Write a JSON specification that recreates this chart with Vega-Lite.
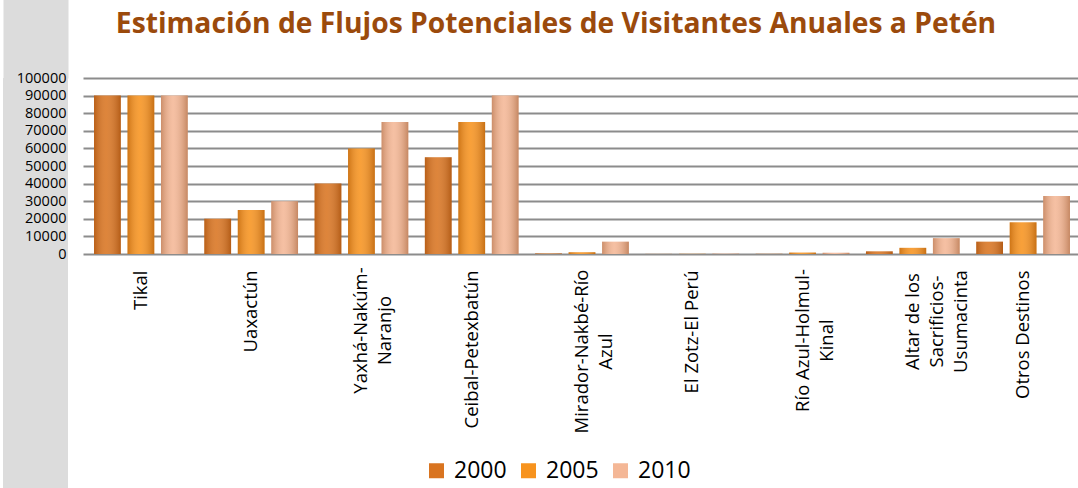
{
  "$schema": "https://vega.github.io/schema/vega-lite/v6.json",
  "padding": 0,
  "background": "white",
  "config": {"view": {"stroke": null}, "font": "Open Sans"},
  "data": {"values": [
    {"destino": "Tikal", "year": "2000", "value": 90000},
    {"destino": "Tikal", "year": "2005", "value": 90000},
    {"destino": "Tikal", "year": "2010", "value": 90000},
    {"destino": "Uaxactún", "year": "2000", "value": 20000},
    {"destino": "Uaxactún", "year": "2005", "value": 25000},
    {"destino": "Uaxactún", "year": "2010", "value": 30000},
    {"destino": "Yaxhá-Nakúm-Naranjo", "year": "2000", "value": 40000},
    {"destino": "Yaxhá-Nakúm-Naranjo", "year": "2005", "value": 60000},
    {"destino": "Yaxhá-Nakúm-Naranjo", "year": "2010", "value": 75000},
    {"destino": "Ceibal-Petexbatún", "year": "2000", "value": 55000},
    {"destino": "Ceibal-Petexbatún", "year": "2005", "value": 75000},
    {"destino": "Ceibal-Petexbatún", "year": "2010", "value": 90000},
    {"destino": "Mirador-Nakbé-Río Azul", "year": "2000", "value": 300},
    {"destino": "Mirador-Nakbé-Río Azul", "year": "2005", "value": 1000},
    {"destino": "Mirador-Nakbé-Río Azul", "year": "2010", "value": 7000},
    {"destino": "El Zotz-El Perú", "year": "2000", "value": 50},
    {"destino": "El Zotz-El Perú", "year": "2005", "value": 100},
    {"destino": "El Zotz-El Perú", "year": "2010", "value": 200},
    {"destino": "Río Azul-Holmul-Kinal", "year": "2000", "value": 100},
    {"destino": "Río Azul-Holmul-Kinal", "year": "2005", "value": 800},
    {"destino": "Río Azul-Holmul-Kinal", "year": "2010", "value": 700},
    {"destino": "Altar de los Sacrificios-Usumacinta", "year": "2000", "value": 1500},
    {"destino": "Altar de los Sacrificios-Usumacinta", "year": "2005", "value": 3500},
    {"destino": "Altar de los Sacrificios-Usumacinta", "year": "2010", "value": 9000},
    {"destino": "Otros Destinos", "year": "2000", "value": 7000},
    {"destino": "Otros Destinos", "year": "2005", "value": 18000},
    {"destino": "Otros Destinos", "year": "2010", "value": 33000}
  ]},
  "spacing": 15,
  "bounds": "flush",
  "resolve": {
    "scale": {"x": "independent", "y": "independent", "color": "independent"},
    "legend": {"color": "independent"}
  },
  "hconcat": [
    {
      "width": 65,
      "height": 410,
      "view": {"fill": "#dcdcdc", "stroke": null},
      "mark": {"type": "point", "opacity": 0},
      "encoding": {
        "x": {
          "field": "value", "type": "quantitative",
          "axis": {"orient": "top", "domain": true, "domainColor": "#dcdcdc", "domainWidth": 156, "domainCap": "butt", "offset": 78, "labels": false, "ticks": false, "grid": false, "title": null}
        }
      }
    },
    {
      "width": 998,
      "height": 176,
      "title": {
        "text": "Estimación de Flujos Potenciales de Visitantes Anuales a Petén",
        "font": "Open Sans", "fontSize": 28.25, "fontWeight": "bold", "color": "#9b4a0c",
        "anchor": "middle", "dx": -26, "offset": 9, "baseline": "alphabetic"
      },
      "encoding": {
        "x": {
          "field": "destino", "type": "nominal", "sort": null,
          "scale": {"paddingInner": 0.15, "paddingOuter": 0.1},
          "axis": {
            "title": null, "labelAngle": -90, "labelFontSize": 18.5, "labelColor": "#000000",
            "ticks": false, "domain": false, "labelLineHeight": 24,
            "labelAlign": {"condition": {"test": "indexof(['Yaxhá-Nakúm-Naranjo', 'Mirador-Nakbé-Río Azul', 'Río Azul-Holmul-Kinal', 'Altar de los Sacrificios-Usumacinta'], datum.value) >= 0", "value": "center"}, "value": "right"},
            "labelPadding": {"condition": [
              {"test": "datum.value == 'Yaxhá-Nakúm-Naranjo'", "value": 76},
              {"test": "datum.value == 'Mirador-Nakbé-Río Azul'", "value": 97},
              {"test": "datum.value == 'Río Azul-Holmul-Kinal'", "value": 86},
              {"test": "datum.value == 'Altar de los Sacrificios-Usumacinta'", "value": 67}
            ], "value": 16},
            "labelExpr": "datum.value == 'Yaxhá-Nakúm-Naranjo' ? ['Yaxhá-Nakúm-', 'Naranjo'] : datum.value == 'Mirador-Nakbé-Río Azul' ? ['Mirador-Nakbé-Río', 'Azul'] : datum.value == 'Río Azul-Holmul-Kinal' ? ['Río Azul-Holmul-', 'Kinal'] : datum.value == 'Altar de los Sacrificios-Usumacinta' ? ['Altar de los', 'Sacrificios-', 'Usumacinta'] : datum.value"
          }
        },
        "xOffset": {"field": "year", "type": "nominal", "scale": {"paddingInner": 0.2, "paddingOuter": 0}},
        "y": {
          "field": "value", "type": "quantitative",
          "scale": {"domain": [0, 100000], "nice": false},
          "axis": {
            "title": null, "values": [0, 10000, 20000, 30000, 40000, 50000, 60000, 70000, 80000, 90000, 100000],
            "format": "d", "labelFontSize": 14.5, "labelColor": "#000000", "labelPadding": 17,
            "ticks": false, "domain": false, "gridColor": "#8c8c8c", "gridWidth": 2
          }
        }
      },
      "layer": [
        {
          "mark": {"type": "bar"},
          "encoding": {
            "color": {
              "field": "year", "type": "nominal",
              "scale": {"domain": ["2000", "2005", "2010"], "range": ["#d97420", "#f7931e", "#f4b796"]},
              "legend": {
                "orient": "none", "legendX": 342, "legendY": 381, "padding": 0,
                "direction": "horizontal", "title": null,
                "symbolType": "square", "symbolSize": 225, "symbolStrokeWidth": 0,
                "labelFontSize": 23, "labelColor": "#000000", "columnPadding": 10, "labelOffset": 6
              }
            }
          }
        },
        {
          "mark": {
            "type": "bar",
            "fill": {
              "gradient": "linear", "x1": 0, "y1": 0, "x2": 1, "y2": 0,
              "stops": [
                {"offset": 0, "color": "rgba(110,45,0,0.30)"},
                {"offset": 0.45, "color": "rgba(255,255,255,0.12)"},
                {"offset": 1, "color": "rgba(110,45,0,0.35)"}
              ]
            }
          }
        }
      ]
    }
  ]
}
